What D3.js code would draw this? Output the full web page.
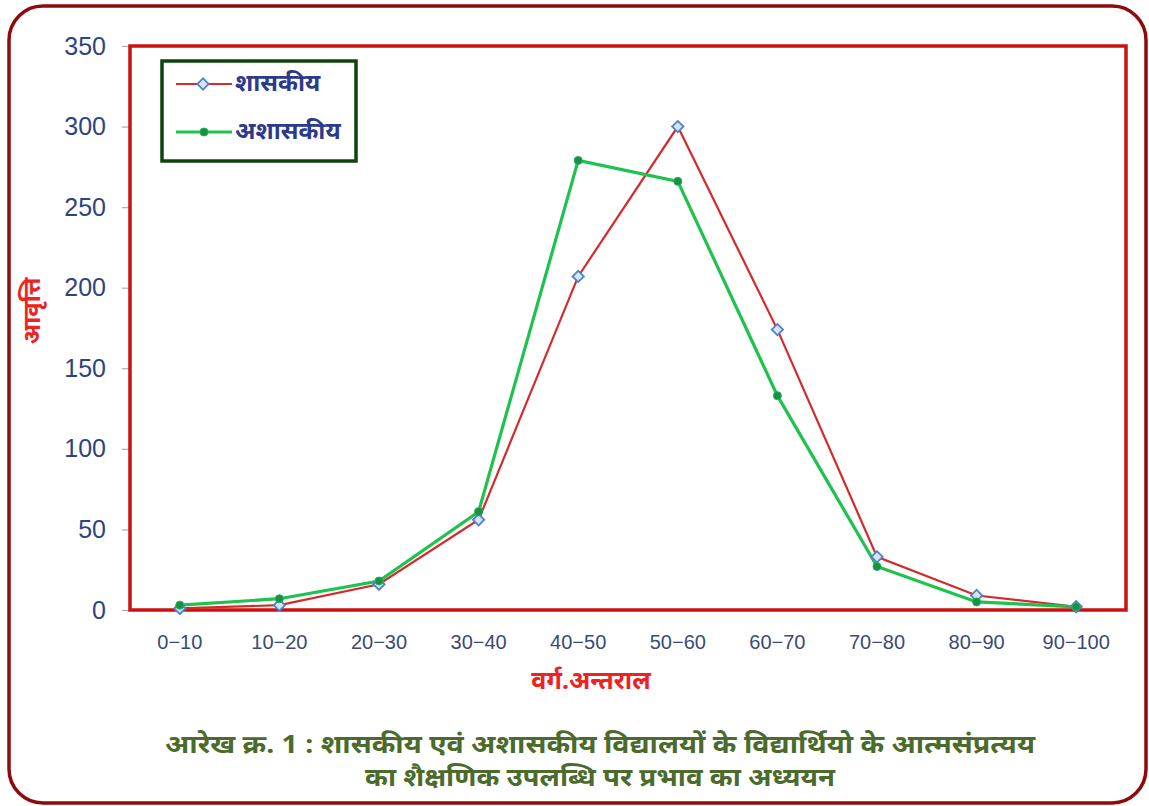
<!DOCTYPE html>
<html>
<head>
<meta charset="utf-8">
<script src="https://cdn.jsdelivr.net/npm/d3@7"></script>
<style>
  html, body { margin: 0; padding: 0; background: #ffffff; }
  svg { display: block; }
</style>
</head>
<body>
<svg id="chart" width="1149" height="806"></svg>
<script>
// Class intervals (x axis)
const categories = ["0−10", "10−20", "20−30", "30−40", "40−50", "50−60", "60−70", "70−80", "80−90", "90−100"];
// Frequencies for government schools
const govtValues = [1, 3, 16, 56, 207, 300, 174, 33, 9, 2];
// Frequencies for non-government schools
const nonGovtValues = [3, 7, 18, 61, 279, 266, 133, 27, 5, 2];
// Y axis ticks
const yTicks = [0, 50, 100, 150, 200, 250, 300, 350];
const seriesNames = ["शासकीय", "अशासकीय"];
const xTitle = "वर्ग.अन्तराल";
const yTitle = "आवृत्ति";
const captionLines = [
  "आरेख क्र. 1 : शासकीय एवं अशासकीय विद्यालयों के  विद्यार्थियो के आत्मसंप्रत्यय",
  "का शैक्षणिक उपलब्धि पर प्रभाव का अध्ययन"
];

const svg = d3.select("#chart");
const font = "'Liberation Sans', Arial, sans-serif";
const hindiFont = "'Noto Sans', 'Liberation Sans', sans-serif";

// outer rounded frame
svg.append("rect")
  .attr("x", 9).attr("y", 6)
  .attr("width", 1137).attr("height", 797)
  .attr("rx", 34).attr("ry", 34)
  .attr("fill", "#ffffff")
  .attr("stroke", "#8e0b0b").attr("stroke-width", 3.5);

const plot = { left: 130, right: 1126, top: 46, bottom: 610 };

const x = d3.scaleBand().domain(categories).range([plot.left, plot.right]);
const y = d3.scaleLinear().domain([0, 350]).range([plot.bottom, plot.top]);

// y axis ticks and labels
const yAxis = d3.axisLeft(y).tickValues(yTicks).tickSize(8).tickPadding(16);
const gy = svg.append("g").attr("transform", `translate(${plot.left},0)`).call(yAxis);
gy.select(".domain").remove();
gy.selectAll(".tick line").attr("stroke", "#aaaaaa").attr("stroke-width", 1.2);
gy.selectAll(".tick text")
  .attr("fill", "#2c4580")
  .attr("font-family", font)
  .attr("font-size", 25);

// x axis labels
const xAxis = d3.axisBottom(x).tickSize(0).tickPadding(25);
const gx = svg.append("g").attr("transform", `translate(0,${plot.bottom})`).call(xAxis);
gx.select(".domain").remove();
gx.selectAll(".tick text")
  .attr("fill", "#3a4a78")
  .attr("font-family", font)
  .attr("font-size", 20);

// plot frame
svg.append("rect")
  .attr("x", plot.left).attr("y", plot.top)
  .attr("width", plot.right - plot.left).attr("height", plot.bottom - plot.top)
  .attr("fill", "none")
  .attr("stroke", "#cc1111").attr("stroke-width", 3.5);

const cx = d => x(d) + x.bandwidth() / 2;
const line = d3.line().x(d => cx(d.c)).y(d => y(d.v));

const govt = categories.map((c, i) => ({ c, v: govtValues[i] }));
const nonGovt = categories.map((c, i) => ({ c, v: nonGovtValues[i] }));

// government series line
svg.append("path").datum(govt)
  .attr("d", line).attr("fill", "none")
  .attr("stroke", "#d42a2a").attr("stroke-width", 2.2);

// non-government series line
svg.append("path").datum(nonGovt)
  .attr("d", line).attr("fill", "none")
  .attr("stroke", "#1ec24e").attr("stroke-width", 3.2);

const diamondPath = d3.symbol().type(d3.symbolSquare).size(64);

// government markers (diamonds)
svg.append("g").selectAll("path").data(govt).join("path")
  .attr("d", diamondPath)
  .attr("transform", d => `translate(${cx(d.c)},${y(d.v)}) rotate(45)`)
  .attr("fill", "#d6e4f5").attr("stroke", "#4f82c8").attr("stroke-width", 1.8);

// non-government markers (dots)
svg.append("g").selectAll("circle").data(nonGovt).join("circle")
  .attr("cx", d => cx(d.c)).attr("cy", d => y(d.v)).attr("r", 4)
  .attr("fill", "#1a8f4a").attr("stroke", "#20b050").attr("stroke-width", 1);

// legend
const lg = svg.append("g");
lg.append("rect")
  .attr("x", 162).attr("y", 61).attr("width", 194).attr("height", 100)
  .attr("fill", "#ffffff").attr("stroke", "#0d440d").attr("stroke-width", 3.5);
const legendRows = [
  { name: seriesNames[0], y: 84, color: "#d42a2a", w: 2.2, marker: "diamond" },
  { name: seriesNames[1], y: 132, color: "#1ec24e", w: 3.2, marker: "dot" }
];
legendRows.forEach(r => {
  lg.append("line").attr("x1", 176).attr("x2", 232).attr("y1", r.y).attr("y2", r.y)
    .attr("stroke", r.color).attr("stroke-width", r.w);
  if (r.marker === "diamond") {
    lg.append("path")
      .attr("d", diamondPath)
      .attr("transform", `translate(203,${r.y}) rotate(45)`)
      .attr("fill", "#d6e4f5").attr("stroke", "#4f82c8").attr("stroke-width", 1.8);
  } else {
    lg.append("circle").attr("cx", 204).attr("cy", r.y).attr("r", 4)
      .attr("fill", "#1a8f4a").attr("stroke", "#20b050");
  }
  lg.append("text").attr("x", 235).attr("y", r.y).attr("dy", "0.3em")
    .attr("font-family", hindiFont).attr("font-weight", "bold")
    .attr("font-size", 24).attr("fill", "#2c3a8c").text(r.name);
});

// axis titles
svg.append("text")
  .attr("x", 591).attr("y", 689).attr("text-anchor", "middle")
  .attr("font-family", hindiFont).attr("font-weight", "bold")
  .attr("font-size", 25).attr("fill", "#ee2222").text(xTitle);

svg.append("text")
  .attr("transform", "translate(33,311) rotate(-90)")
  .attr("text-anchor", "middle").attr("dy", "0.3em")
  .attr("font-family", hindiFont).attr("font-weight", "bold")
  .attr("font-size", 24).attr("fill", "#ee2222").text(yTitle);

// caption
const captionWidths = [870, 470];
captionLines.forEach((t, i) => {
  svg.append("text")
    .attr("x", 600).attr("y", 753 + i * 33).attr("text-anchor", "middle")
    .attr("font-family", hindiFont).attr("font-weight", "bold")
    .attr("font-size", 25).attr("fill", "#4b6b2c")
    .attr("textLength", captionWidths[i]).attr("lengthAdjust", "spacingAndGlyphs")
    .text(t);
});
</script>
</body>
</html>
